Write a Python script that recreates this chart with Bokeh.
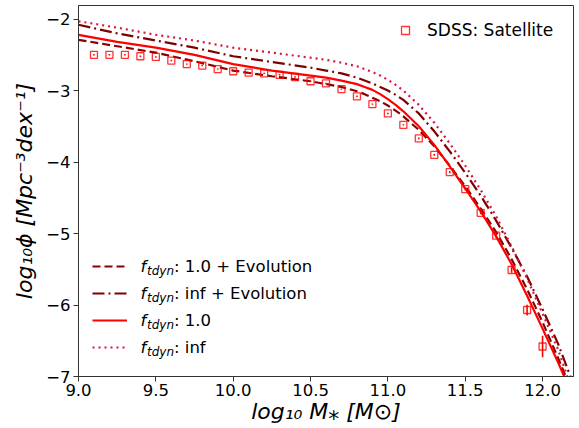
import numpy as np
from bokeh.plotting import figure
from bokeh.models import Legend, LegendItem, Label, Range1d, FixedTicker, ColumnDataSource
from bokeh.embed import file_html
from bokeh.resources import INLINE

# ---------------- data ----------------
sdss_mass = [9.1, 9.2, 9.3, 9.4, 9.5, 9.6, 9.7, 9.8, 9.9, 10.0, 10.1, 10.2, 10.3, 10.4, 10.5,
             10.6, 10.7, 10.8, 10.9, 11.0, 11.1, 11.2, 11.3, 11.4, 11.5, 11.6, 11.7, 11.8, 11.9, 12.0]
sdss_phi = [-2.50, -2.50, -2.50, -2.52, -2.53, -2.58, -2.63, -2.65, -2.70, -2.73, -2.75, -2.76, -2.78,
            -2.81, -2.87, -2.90, -2.98, -3.08, -3.19, -3.32, -3.48, -3.67, -3.90, -4.14, -4.38, -4.71,
            -5.03, -5.51, -6.07, -6.58]
sdss_err = [0.01, 0.01, 0.01, 0.01, 0.01, 0.01, 0.01, 0.01, 0.01, 0.01, 0.01, 0.01, 0.01, 0.01, 0.01,
            0.01, 0.01, 0.01, 0.01, 0.01, 0.01, 0.012, 0.012, 0.015, 0.015, 0.02, 0.03, 0.04, 0.075, 0.15]

mass_f1_evo = [9.0, 9.25, 9.5, 9.75, 10.0, 10.25, 10.5, 10.6, 10.7, 10.8, 10.85, 10.9, 10.95, 11.0,
               11.05, 11.1, 11.2, 11.3, 11.4, 11.5, 11.6, 11.7, 11.8, 11.9, 12.0, 12.1, 12.15]
phi_f1_evo = [-2.29, -2.38, -2.47, -2.59, -2.72, -2.80, -2.87, -2.91, -2.95, -3.01, -3.05, -3.10, -3.15,
              -3.21, -3.28, -3.36, -3.55, -3.78, -4.05, -4.34, -4.65, -4.98, -5.36, -5.78, -6.24, -6.74, -7.0]

mass_finf_evo = [9.0, 9.25, 9.5, 9.75, 10.0, 10.25, 10.5, 10.6, 10.7, 10.8, 10.85, 10.9, 10.95, 11.0,
                 11.05, 11.1, 11.2, 11.3, 11.4, 11.5, 11.6, 11.7, 11.8, 11.9, 12.0, 12.1, 12.18]
phi_finf_evo = [-2.08, -2.20, -2.30, -2.40, -2.52, -2.60, -2.68, -2.72, -2.76, -2.82, -2.86, -2.90, -2.95,
                -3.00, -3.06, -3.13, -3.32, -3.57, -3.85, -4.15, -4.47, -4.82, -5.20, -5.60, -6.06, -6.54, -7.0]

mass_f1 = [9.0, 9.25, 9.5, 9.75, 10.0, 10.25, 10.5, 10.6, 10.7, 10.8, 10.85, 10.9, 10.95, 11.0,
           11.05, 11.1, 11.2, 11.3, 11.4, 11.5, 11.6, 11.7, 11.8, 11.9, 12.0, 12.1, 12.14]
phi_f1 = [-2.22, -2.32, -2.40, -2.50, -2.63, -2.72, -2.79, -2.82, -2.86, -2.91, -2.95, -2.99, -3.05,
          -3.12, -3.20, -3.29, -3.50, -3.76, -4.06, -4.37, -4.69, -5.04, -5.43, -5.87, -6.33, -6.80, -7.0]

mass_finf = [9.0, 9.25, 9.5, 9.75, 10.0, 10.25, 10.5, 10.6, 10.7, 10.8, 10.85, 10.9, 10.95, 11.0,
             11.05, 11.1, 11.2, 11.3, 11.4, 11.5, 11.6, 11.7, 11.8, 11.9, 12.0, 12.1, 12.16]
phi_finf = [-2.03, -2.12, -2.22, -2.30, -2.40, -2.47, -2.54, -2.57, -2.61, -2.66, -2.70, -2.74, -2.79,
            -2.85, -2.92, -3.00, -3.20, -3.45, -3.74, -4.05, -4.39, -4.76, -5.18, -5.63, -6.12, -6.62, -7.0]

x_ticks = [9.0, 9.5, 10.0, 10.5, 11.0, 11.5, 12.0]
x_tick_labels = ["9.0", "9.5", "10.0", "10.5", "11.0", "11.5", "12.0"]
y_ticks = [-7, -6, -5, -4, -3, -2]
y_tick_labels = ["\u22127", "\u22126", "\u22125", "\u22124", "\u22123", "\u22122"]

legend_suffix = [": 1.0 + Evolution", ": inf + Evolution", ": 1.0", ": inf"]
sdss_label = "SDSS: Satellite"

# ---------------- figure ----------------
X0, X1 = 9.0, 12.2
Y0, Y1 = -7.0, -1.81
W, H = 579, 428
BL, BR, BT, BB = 78, 6, 5, 52

p = figure(width=W, height=H, output_backend="svg", toolbar_location=None,
           x_range=Range1d(X0, X1), y_range=Range1d(Y0, Y1),
           min_border_left=BL, min_border_right=BR, min_border_top=BT, min_border_bottom=BB)
p.background_fill_color = "white"
p.border_fill_color = "white"
p.grid.visible = False
p.outline_line_color = "#333333"
p.outline_line_width = 1

FONT = "DejaVu Sans"
for ax in (p.xaxis[0], p.yaxis[0]):
    ax.major_tick_out = 5
    ax.major_tick_in = 0
    ax.minor_tick_out = 0
    ax.minor_tick_in = 0
    ax.axis_line_color = "#333333"
    ax.major_tick_line_color = "#333333"
    ax.major_label_text_font = FONT
    ax.major_label_text_font_size = "16.5px"
    ax.major_label_text_color = "black"
    ax.axis_label_text_font = FONT
    ax.axis_label_text_font_style = "italic"
    ax.axis_label_text_font_size = "22px"
    ax.axis_label_text_color = "black"

p.xaxis.ticker = FixedTicker(ticks=x_ticks)
p.xaxis.major_label_overrides = dict(zip(x_ticks, x_tick_labels))
p.yaxis.ticker = FixedTicker(ticks=y_ticks)
p.yaxis.major_label_overrides = dict(zip(y_ticks, y_tick_labels))
p.xaxis.axis_label = "log\u2081\u2080 M\u204e [M\u2299]"
p.yaxis.axis_label = "log\u2081\u2080\u03d5 [Mpc\u207b\u00b3dex\u207b\u00b9]"
p.xaxis.major_label_standoff = 2
p.xaxis.axis_label_standoff = 0
p.yaxis.major_label_standoff = 3
p.yaxis.axis_label_standoff = 6

# ---------------- model lines ----------------
LW = 2.2
r_dash = p.line(mass_f1_evo, phi_f1_evo, line_color="#8b0000", line_width=LW, line_dash="8 4")
r_dashdot = p.line(mass_finf_evo, phi_finf_evo, line_color="#800000", line_width=LW, line_dash="12 4 2 4")
r_solid = p.line(mass_f1, phi_f1, line_color="red", line_width=LW)
r_dot = p.line(mass_finf, phi_finf, line_color="#dc143c", line_width=LW, line_dash="2 4")

# ---------------- SDSS points ----------------
src = ColumnDataSource(dict(x=sdss_mass, y=sdss_phi,
                            lo=[a - e for a, e in zip(sdss_phi, sdss_err)],
                            hi=[a + e for a, e in zip(sdss_phi, sdss_err)]))
r_err = p.segment(x0="x", y0="lo", x1="x", y1="hi", source=src, line_color="red", line_width=1.6)
r_sq = p.scatter(x="x", y="y", source=src, marker="square", size=7, fill_color=None,
                 line_color="red", line_alpha=0.8, line_width=1.3)

# ---------------- legends ----------------
top_leg = Legend(items=[LegendItem(label=sdss_label, renderers=[r_sq])],
                 location=(317, 336), padding=0, border_line_color=None, background_fill_alpha=0,
                 glyph_width=20, glyph_height=20, label_standoff=12,
                 label_text_font=FONT, label_text_font_size="17px", label_text_color="black")
p.add_layout(top_leg)

bot_leg = Legend(items=[LegendItem(label=s, renderers=[r]) for s, r in
                        zip(legend_suffix, [r_dash, r_dashdot, r_solid, r_dot])],
                 location=(14, 19), padding=0, spacing=7, border_line_color=None, background_fill_alpha=0,
                 glyph_width=35, glyph_height=20, label_height=20, label_standoff=47,
                 label_text_font=FONT, label_text_font_size="16.5px", label_text_color="black")
p.add_layout(bot_leg)

# f_tdyn prefixes (layout positions in screen pixels converted to data coords)
frame_w = W - BL - BR
frame_h = H - BT - BB
def px_to_x(px):
    return X0 + (px - BL) / frame_w * (X1 - X0)
def py_to_y(py):
    return Y1 - (py - BT) / frame_h * (Y1 - Y0)

row_centers = [266, 293, 320, 347]
for c in row_centers:
    p.add_layout(Label(x=px_to_x(140), y=py_to_y(c), text="f", text_font=FONT, text_font_style="italic",
                       text_font_size="16.5px", text_baseline="middle", text_color="black"))
    p.add_layout(Label(x=px_to_x(146.5), y=py_to_y(c + 4.5), text="tdyn", text_font=FONT,
                       text_font_style="italic", text_font_size="12px", text_baseline="middle",
                       text_color="black"))

open("out.html", "w").write(file_html(p, INLINE))
